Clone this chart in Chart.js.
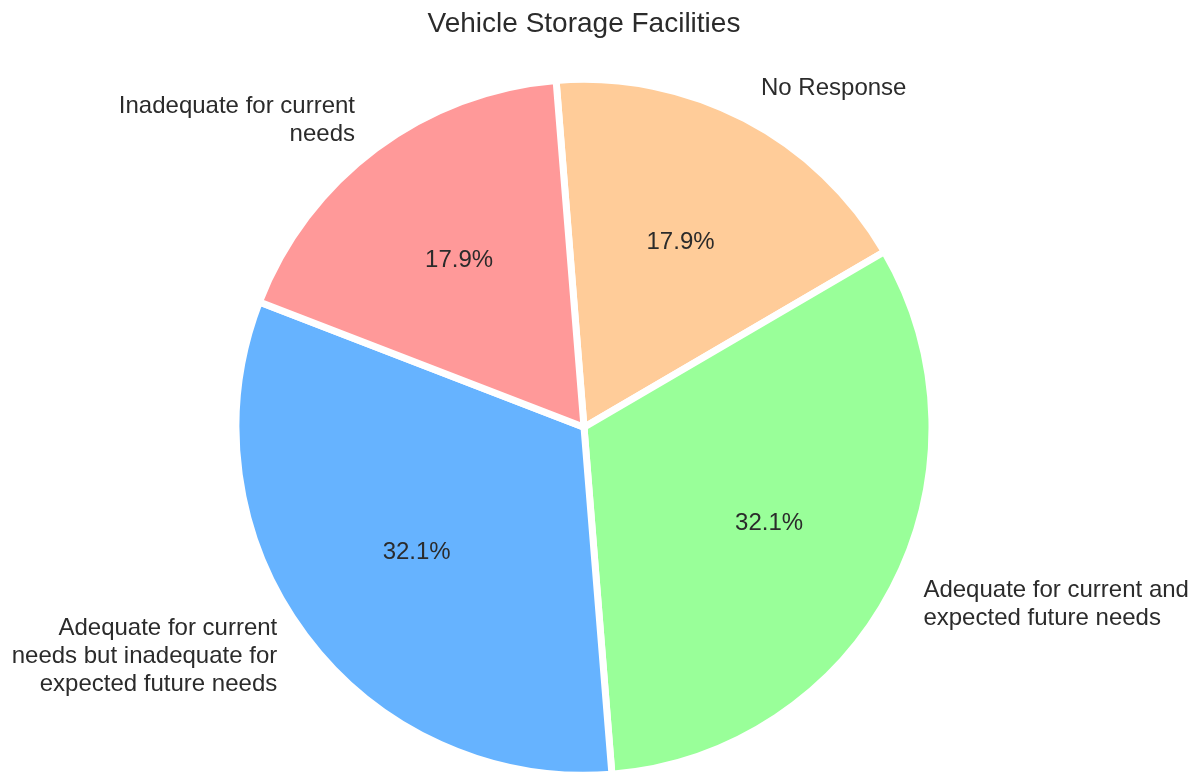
<!DOCTYPE html>
<html>
<head>
<meta charset="utf-8">
<script src="https://cdn.jsdelivr.net/npm/chart.js@4/dist/chart.umd.min.js"></script>
<style>
  html, body { margin: 0; padding: 0; background: #fff; }
  #wrap { width: 1202px; height: 774px; }
</style>
</head>
<body>
<div id="wrap"><canvas id="pie"></canvas></div>
<script>
// clockwise from the top
const labels = [
  'No Response',
  'Adequate for current and\nexpected future needs',
  'Adequate for current\nneeds but inadequate for\nexpected future needs',
  'Inadequate for current\nneeds'
];
const counts = [5, 9, 9, 5];
const colors = ['#ffcc99', '#99ff99', '#66b3ff', '#ff9999'];

const TEXT = '#2b2b2b';
const FONT = '"Liberation Sans", Arial, sans-serif';

// matplotlib-ish labels: names at 1.1 r, percentages at 0.6 r
const pieLabels = {
  id: 'pieLabels',
  afterDatasetsDraw(chart) {
    const ctx = chart.ctx;
    const meta = chart.getDatasetMeta(0);
    const total = counts.reduce((a, b) => a + b, 0);
    ctx.save();
    ctx.fillStyle = TEXT;
    ctx.font = '24px ' + FONT;
    ctx.textBaseline = 'middle';
    meta.data.forEach((arc, i) => {
      const p = arc.getProps(['x', 'y', 'startAngle', 'endAngle', 'outerRadius'], true);
      const mid = (p.startAngle + p.endAngle) / 2;
      const cx = Math.cos(mid), cy = Math.sin(mid);

      // name
      const lines = labels[i].split('\n');
      const lh = 28;
      const lx = p.x + cx * p.outerRadius * 1.1;
      const ly = p.y + cy * p.outerRadius * 1.1;
      ctx.textAlign = cx >= 0 ? 'left' : 'right';
      lines.forEach((ln, k) => {
        ctx.fillText(ln, lx, ly + (k - (lines.length - 1) / 2) * lh);
      });

      // percent
      const pct = (counts[i] / total * 100).toFixed(1) + '%';
      ctx.textAlign = 'center';
      ctx.fillText(pct, p.x + cx * p.outerRadius * 0.6, p.y + cy * p.outerRadius * 0.6);
    });
    ctx.restore();
  }
};

new Chart(document.getElementById('pie'), {
  type: 'pie',
  data: {
    labels: labels,
    datasets: [{
      data: counts,
      backgroundColor: colors,
      borderColor: '#ffffff',
      borderWidth: 7,
      borderJoinStyle: 'miter'
    }]
  },
  options: {
    responsive: true,
    maintainAspectRatio: false,
    animation: false,
    rotation: -4.6,
    radius: 348,
    layout: { padding: { left: 0, right: 34, top: 0, bottom: 0 } },
    plugins: {
      legend: { display: false },
      tooltip: { enabled: false },
      title: {
        display: true,
        text: 'Vehicle Storage Facilities',
        color: TEXT,
        font: { family: FONT, size: 28, weight: 'normal' },
        padding: { top: 7, bottom: 40 }
      }
    }
  },
  plugins: [pieLabels]
});
</script>
</body>
</html>
